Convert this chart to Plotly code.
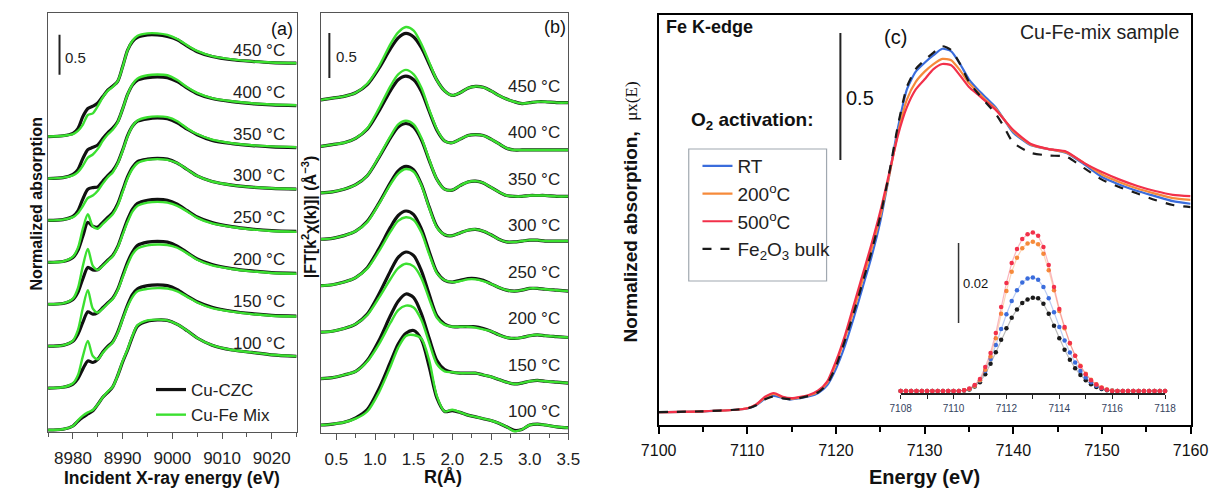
import plotly.graph_objects as go

W, H = 1228, 488
FONT = "Liberation Sans, Arial, sans-serif"


def fx(p):
    return p / W


def fy(p):
    return 1 - p / H


# ------------------------------------------------------------------ data
TEMPS = ["100 °C", "150 °C", "200 °C", "250 °C", "300 °C", "350 °C", "400 °C", "450 °C"]

# panel (a): Cu K-edge XANES
E_A = [8975, 8978, 8980, 8981, 8982, 8983, 8984, 8985, 8986, 8987, 8988, 8989, 8990, 8991,
       8992, 8993, 8995, 8997, 8999, 9001, 9003, 9005, 9008, 9012, 9016, 9020, 9025]

CZC_100 = [0, 0.01, 0.05, 0.11, 0.16, 0.20, 0.24, 0.32, 0.41, 0.47, 0.54, 0.68, 0.85, 1.0,
           1.17, 1.30, 1.36, 1.375, 1.37, 1.32, 1.24, 1.15, 1.06, 1.0, 0.97, 0.94, 0.92]
FE_100 = [0, 0.01, 0.05, 0.12, 0.18, 0.22, 0.25, 0.32, 0.41, 0.48, 0.54, 0.68, 0.86, 1.01,
          1.18, 1.31, 1.37, 1.38, 1.37, 1.32, 1.24, 1.15, 1.06, 1.0, 0.97, 0.94, 0.92]
CZC_150 = [0, 0.01, 0.05, 0.12, 0.24, 0.34, 0.32, 0.36, 0.45, 0.52, 0.58, 0.70, 0.87, 1.04,
           1.17, 1.24, 1.28, 1.29, 1.28, 1.23, 1.15, 1.08, 1.01, 0.96, 0.93, 0.91, 0.90]
FE_150 = [0, 0.01, 0.06, 0.16, 0.40, 0.59, 0.40, 0.36, 0.44, 0.51, 0.57, 0.69, 0.86, 1.02,
          1.14, 1.21, 1.24, 1.25, 1.245, 1.21, 1.14, 1.07, 1.0, 0.955, 0.925, 0.905, 0.895]
CZC_200 = [0, 0.01, 0.06, 0.15, 0.30, 0.43, 0.40, 0.42, 0.48, 0.54, 0.60, 0.71, 0.88, 1.05,
           1.18, 1.26, 1.30, 1.31, 1.30, 1.25, 1.17, 1.09, 1.02, 0.97, 0.94, 0.92, 0.91]
FE_200 = [0, 0.01, 0.07, 0.20, 0.48, 0.70, 0.47, 0.42, 0.47, 0.53, 0.59, 0.70, 0.86, 1.02,
          1.15, 1.22, 1.26, 1.27, 1.265, 1.23, 1.16, 1.08, 1.01, 0.965, 0.935, 0.915, 0.905]
CZC_250 = [0, 0.01, 0.06, 0.15, 0.32, 0.46, 0.43, 0.43, 0.49, 0.55, 0.61, 0.72, 0.89, 1.06,
           1.19, 1.26, 1.30, 1.31, 1.30, 1.25, 1.17, 1.09, 1.02, 0.97, 0.94, 0.92, 0.91]
FE_250 = [0, 0.01, 0.07, 0.20, 0.48, 0.69, 0.48, 0.43, 0.48, 0.54, 0.60, 0.71, 0.87, 1.03,
          1.16, 1.23, 1.27, 1.28, 1.27, 1.23, 1.16, 1.08, 1.01, 0.965, 0.935, 0.915, 0.905]
CZC_300 = [0, 0.01, 0.06, 0.15, 0.33, 0.50, 0.45, 0.44, 0.50, 0.56, 0.62, 0.73, 0.90, 1.07,
           1.19, 1.26, 1.29, 1.30, 1.29, 1.24, 1.16, 1.08, 1.01, 0.965, 0.94, 0.925, 0.915]
FE_300 = [0, 0.01, 0.07, 0.18, 0.42, 0.60, 0.45, 0.42, 0.48, 0.54, 0.60, 0.71, 0.88, 1.05,
          1.17, 1.24, 1.28, 1.29, 1.28, 1.24, 1.16, 1.08, 1.01, 0.965, 0.94, 0.925, 0.915]
CZC_350 = [0, 0.01, 0.05, 0.12, 0.27, 0.39, 0.41, 0.42, 0.49, 0.56, 0.62, 0.72, 0.88, 1.06,
           1.18, 1.24, 1.27, 1.28, 1.27, 1.22, 1.14, 1.07, 1.0, 0.96, 0.935, 0.92, 0.91]
FE_350 = [0, 0.01, 0.04, 0.09, 0.18, 0.28, 0.31, 0.37, 0.46, 0.54, 0.60, 0.71, 0.87, 1.05,
          1.18, 1.25, 1.29, 1.30, 1.29, 1.24, 1.15, 1.08, 1.01, 0.965, 0.94, 0.925, 0.915]
CZC_400 = [0, 0.01, 0.05, 0.11, 0.25, 0.36, 0.39, 0.42, 0.50, 0.57, 0.63, 0.71, 0.87, 1.05,
           1.17, 1.23, 1.26, 1.27, 1.26, 1.21, 1.13, 1.06, 1.0, 0.96, 0.935, 0.92, 0.91]
FE_400 = [0, 0.01, 0.04, 0.08, 0.16, 0.26, 0.30, 0.37, 0.47, 0.55, 0.61, 0.70, 0.87, 1.05,
          1.18, 1.25, 1.29, 1.30, 1.29, 1.23, 1.14, 1.07, 1.005, 0.965, 0.94, 0.925, 0.915]
CZC_450 = [0, 0.01, 0.04, 0.10, 0.25, 0.35, 0.38, 0.42, 0.50, 0.58, 0.63, 0.69, 0.875, 1.08,
           1.19, 1.24, 1.27, 1.27, 1.25, 1.21, 1.13, 1.06, 1.0, 0.96, 0.94, 0.925, 0.917]
FE_450 = [0, 0.01, 0.03, 0.07, 0.15, 0.27, 0.29, 0.38, 0.49, 0.57, 0.62, 0.69, 0.87, 1.08,
          1.20, 1.26, 1.29, 1.29, 1.27, 1.22, 1.14, 1.07, 1.005, 0.965, 0.94, 0.925, 0.917]

CZC_A = [CZC_100, CZC_150, CZC_200, CZC_250, CZC_300, CZC_350, CZC_400, CZC_450]
FE_A = [FE_100, FE_150, FE_200, FE_250, FE_300, FE_350, FE_400, FE_450]

# panel (b): |FT[k^2 chi(k)]|
R_B = [0.3, 0.45, 0.6, 0.75, 0.9, 1.05, 1.2, 1.3, 1.4, 1.5, 1.6, 1.7, 1.8, 1.9, 2.0, 2.1,
       2.2, 2.3, 2.4, 2.5, 2.6, 2.7, 2.8, 2.9, 3.0, 3.1, 3.2, 3.35, 3.5]

FT_CZC_100 = [0, 0.01, 0.03, 0.08, 0.17, 0.40, 0.70, 0.90, 1.02, 1.05, 0.95, 0.65, 0.30, 0.15,
              0.16, 0.14, 0.11, 0.09, 0.07, 0.05, 0.02, -0.02, -0.06, -0.05, 0.0, 0.01, 0.0,
              -0.02, -0.03]
FT_FE_100 = [0, 0.01, 0.03, 0.07, 0.15, 0.36, 0.65, 0.86, 0.99, 1.00, 0.96, 0.72, 0.32, 0.15,
             0.17, 0.14, 0.11, 0.09, 0.07, 0.05, 0.02, -0.02, -0.07, -0.05, 0.0, 0.01, 0.0,
             -0.02, -0.03]
FT_CZC_150 = [0, 0.01, 0.04, 0.08, 0.20, 0.42, 0.70, 0.86, 0.94, 0.90, 0.72, 0.45, 0.20, 0.10,
              0.07, 0.06, 0.06, 0.06, 0.04, 0.02, -0.01, -0.04, -0.06, -0.05, -0.03, -0.02,
              -0.03, -0.04, -0.05]
FT_FE_150 = [0, 0.01, 0.04, 0.08, 0.19, 0.38, 0.62, 0.76, 0.81, 0.79, 0.65, 0.40, 0.16, 0.08,
             0.07, 0.06, 0.06, 0.06, 0.04, 0.02, -0.01, -0.04, -0.06, -0.05, -0.03, -0.02,
             -0.03, -0.04, -0.05]
FT_CZC_200 = [0, 0.01, 0.04, 0.09, 0.20, 0.42, 0.68, 0.83, 0.89, 0.85, 0.68, 0.42, 0.18, 0.09,
              0.06, 0.06, 0.06, 0.06, 0.04, 0.01, -0.03, -0.06, -0.07, -0.06, -0.04, -0.03,
              -0.04, -0.05, -0.06]
FT_FE_200 = [0, 0.01, 0.04, 0.09, 0.19, 0.38, 0.59, 0.71, 0.76, 0.73, 0.60, 0.37, 0.16, 0.08,
             0.06, 0.06, 0.06, 0.05, 0.03, 0.01, -0.03, -0.06, -0.07, -0.06, -0.04, -0.03,
             -0.04, -0.05, -0.06]
FT_CZC_250 = [0, 0.01, 0.04, 0.09, 0.20, 0.41, 0.65, 0.78, 0.83, 0.79, 0.63, 0.38, 0.15, 0.06,
              0.04, 0.06, 0.08, 0.08, 0.06, 0.02, -0.02, -0.05, -0.06, -0.05, -0.03, -0.03,
              -0.04, -0.05, -0.06]
FT_FE_250 = [0, 0.01, 0.04, 0.09, 0.19, 0.38, 0.60, 0.72, 0.76, 0.73, 0.59, 0.35, 0.14, 0.06,
             0.04, 0.05, 0.07, 0.07, 0.05, 0.02, -0.02, -0.05, -0.06, -0.05, -0.03, -0.03,
             -0.04, -0.05, -0.06]
FT_CZC_300 = [0, 0.01, 0.04, 0.09, 0.20, 0.40, 0.63, 0.76, 0.81, 0.77, 0.61, 0.36, 0.14, 0.05,
              0.04, 0.07, 0.10, 0.11, 0.09, 0.05, 0.0, -0.03, -0.03, -0.02, -0.01, -0.01,
              -0.02, -0.02, -0.02]
FT_FE_300 = [0, 0.01, 0.04, 0.09, 0.19, 0.39, 0.61, 0.73, 0.78, 0.75, 0.60, 0.35, 0.13, 0.05,
             0.04, 0.07, 0.10, 0.11, 0.09, 0.05, 0.0, -0.03, -0.03, -0.02, -0.01, -0.01,
             -0.02, -0.02, -0.02]
FT_CZC_350 = [0, 0.01, 0.04, 0.09, 0.19, 0.39, 0.61, 0.73, 0.77, 0.73, 0.59, 0.36, 0.15, 0.04,
              0.03, 0.08, 0.12, 0.13, 0.11, 0.06, 0.01, -0.03, -0.04, -0.04, -0.03, -0.03,
              -0.03, -0.04, -0.04]
FT_FE_350 = [0, 0.01, 0.04, 0.09, 0.19, 0.40, 0.63, 0.76, 0.80, 0.76, 0.61, 0.37, 0.15, 0.04,
             0.03, 0.08, 0.12, 0.13, 0.11, 0.06, 0.01, -0.03, -0.04, -0.04, -0.03, -0.03,
             -0.03, -0.04, -0.04]
FT_CZC_400 = [0, 0.02, 0.04, 0.09, 0.19, 0.39, 0.62, 0.74, 0.78, 0.74, 0.61, 0.39, 0.18, 0.06,
              0.04, 0.08, 0.12, 0.13, 0.12, 0.08, 0.03, -0.02, -0.04, -0.04, -0.04, -0.04,
              -0.04, -0.04, -0.04]
FT_FE_400 = [0, 0.02, 0.04, 0.09, 0.20, 0.42, 0.67, 0.80, 0.85, 0.80, 0.65, 0.41, 0.19, 0.06,
             0.04, 0.08, 0.12, 0.13, 0.12, 0.08, 0.03, -0.02, -0.04, -0.04, -0.04, -0.04,
             -0.04, -0.04, -0.04]
FT_CZC_450 = [0, 0.02, 0.04, 0.08, 0.17, 0.35, 0.57, 0.69, 0.74, 0.70, 0.58, 0.40, 0.22, 0.10,
              0.05, 0.08, 0.13, 0.15, 0.14, 0.10, 0.05, 0.01, -0.02, -0.04, -0.03, -0.02,
              -0.02, -0.03, -0.03]
FT_FE_450 = [0, 0.02, 0.04, 0.08, 0.18, 0.37, 0.62, 0.75, 0.81, 0.77, 0.62, 0.42, 0.22, 0.10,
             0.05, 0.08, 0.13, 0.15, 0.14, 0.10, 0.05, 0.01, -0.02, -0.04, -0.03, -0.02,
             -0.02, -0.03, -0.03]

FT_CZC = [FT_CZC_100, FT_CZC_150, FT_CZC_200, FT_CZC_250, FT_CZC_300, FT_CZC_350, FT_CZC_400, FT_CZC_450]
FT_FE = [FT_FE_100, FT_FE_150, FT_FE_200, FT_FE_250, FT_FE_300, FT_FE_350, FT_FE_400, FT_FE_450]

# panel (c): Fe K-edge XANES
E_C = [7100, 7105, 7109, 7110, 7111, 7112, 7113, 7114, 7115, 7116, 7117, 7118, 7119, 7120,
       7121, 7122, 7123, 7124, 7125, 7126, 7127, 7128, 7129, 7130, 7131, 7132, 7133, 7134,
       7135, 7136, 7137, 7138, 7139, 7140, 7142, 7144, 7146, 7148, 7150, 7152, 7154, 7156,
       7158, 7160]
FE_RT = [0, 0.003, 0.01, 0.014, 0.027, 0.052, 0.064, 0.055, 0.05, 0.055, 0.062, 0.075, 0.105,
         0.17, 0.26, 0.37, 0.49, 0.61, 0.75, 0.93, 1.12, 1.27, 1.34, 1.375, 1.405, 1.43, 1.42,
         1.37, 1.31, 1.27, 1.235, 1.20, 1.15, 1.10, 1.05, 1.035, 1.02, 0.975, 0.925, 0.895,
         0.87, 0.85, 0.83, 0.82]
FE_200C = [0, 0.003, 0.01, 0.015, 0.029, 0.057, 0.071, 0.058, 0.053, 0.058, 0.066, 0.081,
           0.115, 0.19, 0.29, 0.40, 0.52, 0.64, 0.77, 0.93, 1.10, 1.23, 1.30, 1.34, 1.37, 1.39,
           1.385, 1.345, 1.295, 1.26, 1.225, 1.195, 1.15, 1.105, 1.052, 1.035, 1.022, 0.98,
           0.935, 0.905, 0.88, 0.86, 0.842, 0.835]
FE_500C = [0, 0.003, 0.01, 0.015, 0.03, 0.06, 0.075, 0.06, 0.055, 0.06, 0.068, 0.085, 0.12,
           0.20, 0.30, 0.42, 0.54, 0.66, 0.79, 0.94, 1.09, 1.20, 1.27, 1.31, 1.35, 1.37, 1.365,
           1.325, 1.28, 1.25, 1.22, 1.19, 1.15, 1.11, 1.055, 1.035, 1.025, 0.98, 0.945, 0.915,
           0.89, 0.87, 0.855, 0.85]
FE2O3_BULK = [0, 0.003, 0.01, 0.014, 0.027, 0.05, 0.062, 0.054, 0.05, 0.056, 0.064, 0.078,
              0.11, 0.18, 0.28, 0.39, 0.51, 0.63, 0.77, 0.94, 1.13, 1.28, 1.35, 1.385, 1.415,
              1.44, 1.425, 1.37, 1.30, 1.255, 1.215, 1.175, 1.12, 1.06, 1.02, 1.01, 1.005,
              0.96, 0.915, 0.885, 0.86, 0.835, 0.815, 0.807]

# inset: pre-edge peaks (background subtracted)
E_INSET = [7108.0, 7108.2, 7108.4, 7108.6, 7108.8, 7109.0, 7109.2, 7109.4, 7109.6, 7109.8,
           7110.0, 7110.2, 7110.4, 7110.6, 7110.8, 7111.0, 7111.2, 7111.4, 7111.6, 7111.8,
           7112.0, 7112.2, 7112.4, 7112.6, 7112.8, 7113.0, 7113.2, 7113.4, 7113.6, 7113.8,
           7114.0, 7114.2, 7114.4, 7114.6, 7114.8, 7115.0, 7115.2, 7115.4, 7115.6, 7115.8,
           7116.0, 7116.2, 7116.4, 7116.6, 7116.8, 7117.0, 7117.2, 7117.4, 7117.6, 7117.8,
           7118.0]
PRE_RT = [0, 0, 0, 0, 0, 0, 0, 0, 0, 0, 0, 0,
          0.0002, 0.0005, 0.0013, 0.0026, 0.005, 0.008, 0.0115, 0.0155, 0.0192, 0.0225,
          0.0252, 0.0271, 0.0281, 0.0284, 0.0278, 0.026, 0.0232, 0.0197, 0.016, 0.0126,
          0.0096, 0.0071, 0.005, 0.0034, 0.0022, 0.0013, 0.0007, 0.0003, 0.0001,
          0, 0, 0, 0, 0, 0, 0, 0, 0, 0]
PRE_200C = [0, 0, 0, 0, 0, 0, 0, 0, 0, 0, 0, 0,
            0.0002, 0.0005, 0.0013, 0.0027, 0.0053, 0.0086, 0.0132, 0.0193, 0.025, 0.0298,
            0.0333, 0.0357, 0.0369, 0.0373, 0.0367, 0.0343, 0.0302, 0.0252, 0.02, 0.0157,
            0.0119, 0.0088, 0.0063, 0.0043, 0.0028, 0.0017, 0.0009, 0.0004, 0.0001,
            0, 0, 0, 0, 0, 0, 0, 0, 0, 0]
PRE_500C = [0, 0, 0, 0, 0, 0, 0, 0, 0, 0, 0, 0,
            0.0002, 0.0006, 0.0015, 0.003, 0.006, 0.0095, 0.0145, 0.021, 0.027, 0.032,
            0.0355, 0.038, 0.0392, 0.0396, 0.0388, 0.036, 0.0315, 0.026, 0.0205, 0.016,
            0.012, 0.0088, 0.0062, 0.0042, 0.0027, 0.0016, 0.0008, 0.0003, 0.0,
            0, 0, 0, 0, 0, 0, 0, 0, 0, 0]
PRE_BULK = [0, 0, 0, 0, 0, 0, 0, 0, 0, 0, 0, 0,
            0.0001, 0.0004, 0.0011, 0.0022, 0.0042, 0.0068, 0.0097, 0.0128, 0.0157, 0.0183,
            0.0204, 0.022, 0.0229, 0.0233, 0.0232, 0.0218, 0.0193, 0.0163, 0.0132, 0.0103,
            0.0078, 0.0057, 0.004, 0.0027, 0.0017, 0.001, 0.0005, 0.0002, 0.0,
            0, 0, 0, 0, 0, 0, 0, 0, 0, 0]

C_NAMES = ["RT", "200<sup>o</sup>C", "500<sup>o</sup>C", "Fe<sub>2</sub>O<sub>3</sub> bulk"]

# ------------------------------------------------------------------ styles
OFF_A = 0.524   # vertical stacking offset, panel (a)
OFF_B = 0.516   # vertical stacking offset, panel (b)
BLACK = "#111111"
GREEN = "#3be030"
C_COLORS = ["#3a6cdc", "#f68a3a", "#f2304a", "#1a1a1a"]
C_LIGHT = ["rgba(58,108,220,0.35)", "rgba(246,138,58,0.35)",
           "rgba(242,48,74,0.35)", "rgba(30,30,30,0.3)"]

fig = go.Figure()

# panel (a)
for i in range(len(TEMPS)):
    off = i * OFF_A
    fig.add_trace(go.Scatter(x=E_A, y=[v + off for v in CZC_A[i]], mode="lines",
                             line=dict(color=BLACK, width=3.2, shape="spline", smoothing=0.8),
                             name="Cu-CZC", legend="legend", showlegend=(i == 0),
                             xaxis="x", yaxis="y"))
    fig.add_trace(go.Scatter(x=E_A, y=[v + off for v in FE_A[i]], mode="lines",
                             line=dict(color=GREEN, width=2.4, shape="spline", smoothing=0.8),
                             name="Cu-Fe Mix", legend="legend", showlegend=(i == 0),
                             xaxis="x", yaxis="y"))

# panel (b)
for i in range(len(TEMPS)):
    off = i * OFF_B
    fig.add_trace(go.Scatter(x=R_B, y=[v + off for v in FT_CZC[i]], mode="lines",
                             line=dict(color=BLACK, width=3.2, shape="spline", smoothing=0.8),
                             showlegend=False, xaxis="x2", yaxis="y2"))
    fig.add_trace(go.Scatter(x=R_B, y=[v + off for v in FT_FE[i]], mode="lines",
                             line=dict(color=GREEN, width=2.4, shape="spline", smoothing=0.8),
                             showlegend=False, xaxis="x2", yaxis="y2"))

# panel (c)
c_series = [FE_RT, FE_200C, FE_500C, FE2O3_BULK]
for k, ys in enumerate(c_series):
    fig.add_trace(go.Scatter(x=E_C, y=ys, mode="lines", name=C_NAMES[k],
                             line=dict(color=C_COLORS[k], width=2.2, shape="spline",
                                       smoothing=0.6, dash="dash" if k == 3 else "solid"),
                             legend="legend2", xaxis="x3", yaxis="y3"))

# inset
pre_series = [PRE_BULK, PRE_RT, PRE_200C, PRE_500C]
pre_idx = [3, 0, 1, 2]
for ys, k in zip(pre_series, pre_idx):
    fig.add_trace(go.Scatter(x=E_INSET, y=ys, mode="lines+markers", showlegend=False,
                             line=dict(color=C_LIGHT[k], width=1.2),
                             marker=dict(color=C_COLORS[k], size=4.5),
                             cliponaxis=False, xaxis="x4", yaxis="y4"))

# ------------------------------------------------------------------ axes
frame_ab = dict(showline=True, mirror=True, linecolor="#555555", linewidth=1,
                showgrid=False, zeroline=False)
tickfont_ab = dict(family=FONT, size=17, color="#222222")

fig.update_layout(
    xaxis=dict(domain=[fx(31), fx(287)], range=[8975, 9025], anchor="y",
               tick0=8980, dtick=10, ticks="outside", ticklen=6, tickwidth=1,
               tickcolor="#555555", tickfont=tickfont_ab, ticklabelstandoff=5,
               minor=dict(dtick=5, ticks="outside", ticklen=4, tickcolor="#555555"),
               **frame_ab),
    yaxis=dict(domain=[fy(432), fy(13)], range=[-0.025, 5.2125], anchor="x",
               showticklabels=False, ticks="", **frame_ab),
    xaxis2=dict(domain=[fx(312), fx(567)], range=[0.3, 3.5], anchor="y2",
                tick0=0.5, dtick=0.5, ticks="outside", ticklen=6, tickwidth=1,
                tickcolor="#555555", tickfont=tickfont_ab, tickformat=".1f",
                ticklabelstandoff=5,
                minor=dict(dtick=0.25, ticks="outside", ticklen=4, tickcolor="#555555"),
                **frame_ab),
    yaxis2=dict(domain=[fy(433), fy(13)], range=[-0.089, 4.578], anchor="x2",
                showticklabels=False, ticks="", **frame_ab),
    xaxis3=dict(domain=[fx(660), fx(1208)], range=[7100, 7160], anchor="y3",
                tick0=7100, dtick=10, ticks="outside", ticklen=7, tickwidth=2,
                tickcolor="black", tickfont=dict(family=FONT, size=16, color="#111"),
                ticklabelstandoff=3,
                minor=dict(dtick=5, ticks="outside", ticklen=5, tickwidth=2,
                           tickcolor="black"),
                showline=True, mirror=True, linecolor="black", linewidth=2,
                showgrid=False, zeroline=False),
    yaxis3=dict(domain=[fy(425), fy(15)], range=[-0.051, 1.563], anchor="x3",
                showticklabels=False, ticks="", showline=True, mirror=True,
                linecolor="black", linewidth=2, showgrid=False, zeroline=False),
    xaxis4=dict(domain=[fx(909.3), fx(1181.7)], range=[7108, 7118], anchor="y4",
                tick0=7108, dtick=2, ticks="outside", ticklen=4, tickwidth=1.2,
                tickcolor="#222", tickfont=dict(family=FONT, size=10, color="#34435e"),
                ticklabelstandoff=1,
                minor=dict(dtick=1, ticks="outside", ticklen=4, tickwidth=1.2,
                           tickcolor="#222"),
                showline=True, linecolor="#222", linewidth=1.5, showgrid=False,
                zeroline=False),
    yaxis4=dict(domain=[fy(393), fy(225)], range=[-0.0005, 0.0415], anchor="x4",
                visible=False),
)

# ------------------------------------------------------------------ annotations
ann = []
for i, t in enumerate(TEMPS):
    ann.append(dict(x=9023.0, y=i * OFF_A + 1.08, xref="x", yref="y", text=t,
                    showarrow=False, xanchor="right", yanchor="middle",
                    font=dict(family=FONT, size=17, color="#222")))
    ann.append(dict(x=3.42, y=i * OFF_B + 0.15, xref="x2", yref="y2", text=t,
                    showarrow=False, xanchor="right", yanchor="middle",
                    font=dict(family=FONT, size=17, color="#222")))


def note(x, y, text, size, bold=False, xanchor="center", angle=0, family=FONT, color="#111"):
    ann.append(dict(x=fx(x), y=fy(y), xref="paper", yref="paper",
                    text=("<b>%s</b>" % text) if bold else text, showarrow=False,
                    xanchor=xanchor, yanchor="middle", textangle=angle,
                    font=dict(family=family, size=size, color=color)))


note(272, 29, "(a)", 18)
note(553, 27, "(b)", 18)
note(904, 37, "(c)", 20)
note(665, 27, "Fe K-edge", 18, bold=True, xanchor="left")
note(1198, 32, "Cu-Fe-mix sample", 19.5, xanchor="right", color="#222")
note(691, 121, "O<sub>2</sub> activation:", 19, bold=True, xanchor="left")
note(159, 478, "Incident X-ray energy (eV)", 17.5, bold=True)
note(438, 477, "R(Å)", 18, bold=True)
note(934, 477, "Energy (eV)", 20, bold=True)
note(19, 204, "Normalized absorption", 16, bold=True, angle=-90)
note(300, 217, "|FT[k<sup>2</sup>χ(k)]| (Å<sup>−3</sup>)", 16, bold=True, angle=-90)
note(632, 212, "<b>Normalized absorption,</b>  "
     "<span style='font-family:Liberation Serif, serif;font-size:17px'>μx(E)</span>",
     19, angle=-90)

# scale-bar labels
ann.append(dict(x=8978.0, y=4.66, xref="x", yref="y", text="0.5", showarrow=False,
                xanchor="left", font=dict(family=FONT, size=15, color="#222")))
ann.append(dict(x=0.47, y=4.10, xref="x2", yref="y2", text="0.5", showarrow=False,
                xanchor="left", font=dict(family=FONT, size=15, color="#222")))
ann.append(dict(x=7120.85, y=1.236, xref="x3", yref="y3", text="0.5", showarrow=False,
                xanchor="left", font=dict(family=FONT, size=20, color="#111")))
ann.append(dict(x=7110.3, y=0.027, xref="x4", yref="y4", text="0.02", showarrow=False,
                xanchor="left", font=dict(family=FONT, size=13, color="#111")))

shapes = [
    dict(type="line", xref="x", yref="y", x0=8977.3, x1=8977.3, y0=4.44, y1=4.94,
         line=dict(color="#222", width=2)),
    dict(type="line", xref="x2", yref="y2", x0=0.41, x1=0.41, y0=3.856, y1=4.356,
         line=dict(color="#222", width=2)),
    dict(type="line", xref="x3", yref="y3", x0=7120.5, x1=7120.5, y0=0.992, y1=1.492,
         line=dict(color="#222", width=2)),
    dict(type="line", xref="x4", yref="y4", x0=7110.19, x1=7110.19, y0=0.017, y1=0.037,
         line=dict(color="#333", width=1.5)),
    dict(type="rect", xref="paper", yref="paper", x0=fx(691), x1=fx(833), y0=fy(281),
         y1=fy(149), line=dict(color="#a0a8b0", width=1.2)),
]

fig.update_layout(
    width=W, height=H, margin=dict(l=0, r=0, t=0, b=0),
    paper_bgcolor="white", plot_bgcolor="rgba(0,0,0,0)",
    font=dict(family=FONT, color="#111"),
    annotations=ann, shapes=shapes,
    legend=dict(x=fx(137), y=fy(372), xanchor="left", yanchor="top",
                bgcolor="rgba(0,0,0,0)", font=dict(family=FONT, size=17, color="#222"),
                tracegroupgap=0, itemwidth=30),
    legend2=dict(x=fx(700), y=fy(147), xanchor="left", yanchor="top",
                 bgcolor="rgba(0,0,0,0)", font=dict(family=FONT, size=19, color="#222"),
                 tracegroupgap=0, itemwidth=30),
)

fig.write_html("out.html", config={"displayModeBar": False},
               post_script="document.body.style.margin='0';"
                           "document.body.style.overflow='hidden';")
